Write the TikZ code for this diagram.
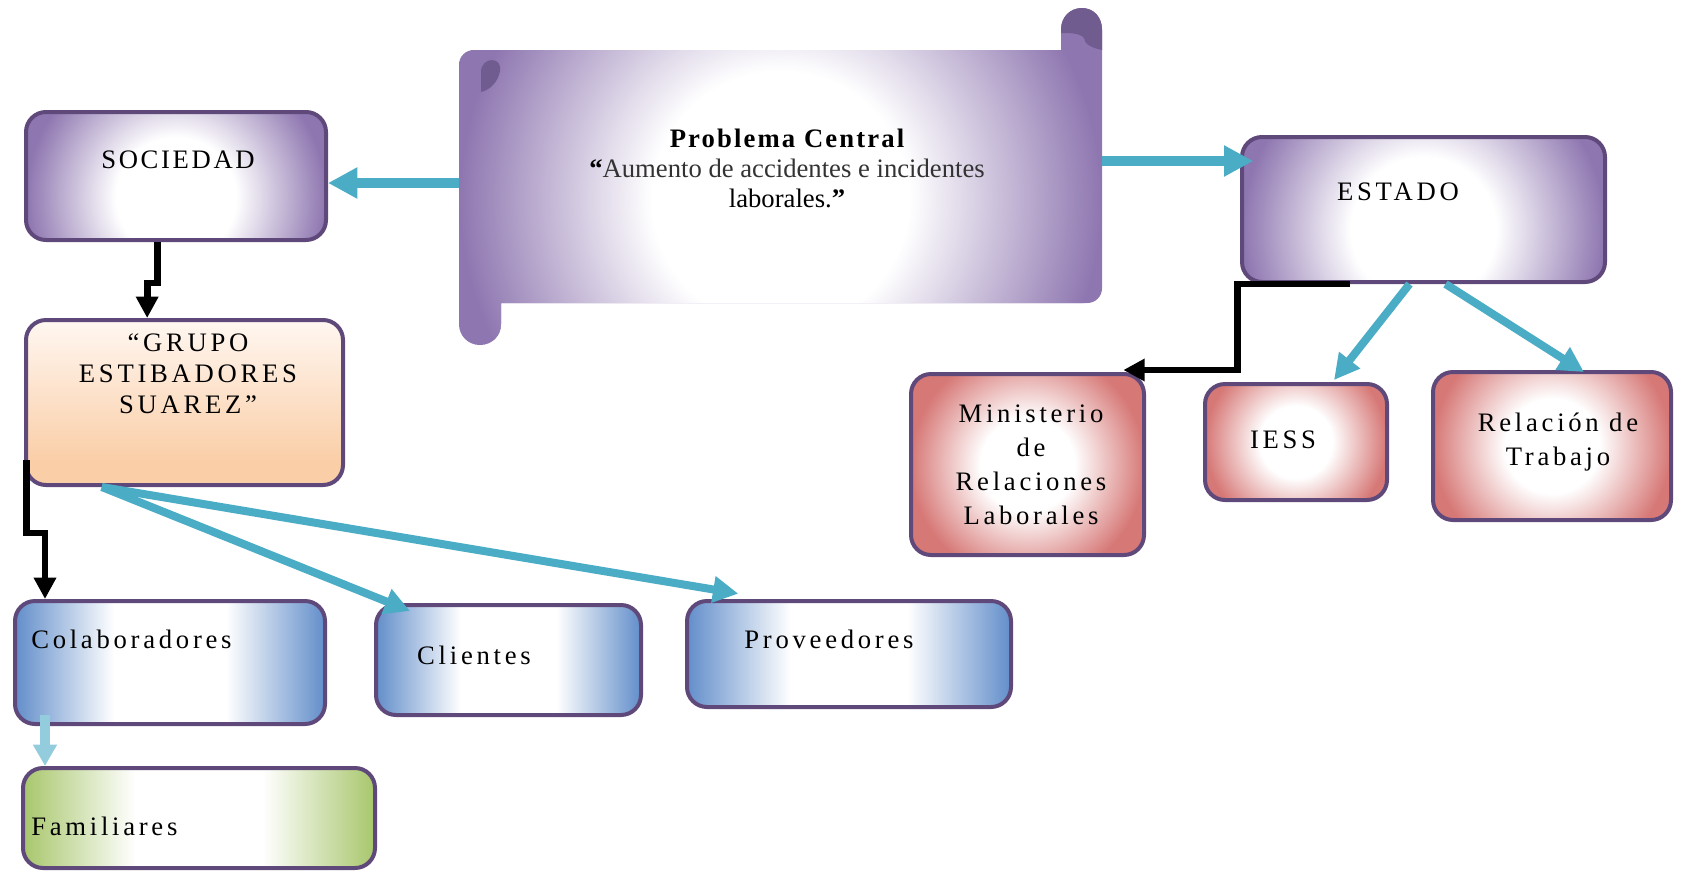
\documentclass[tikz,border=0pt]{standalone}
\usepackage{fontspec}
\setmainfont{Liberation Serif}
\newfontfamily\spaced[LetterSpace=14]{Liberation Serif}
\newfontfamily\spacedsoc[LetterSpace=10]{Liberation Serif}
\newfontfamily\spacedtitle[LetterSpace=8]{Liberation Serif}
\usetikzlibrary{arrows.meta,fit}

\definecolor{boxborder}{RGB}{95,73,122}
\definecolor{purpleedge}{RGB}{142,118,176}
\definecolor{scrollcurl}{RGB}{112,92,142}
\definecolor{pinkedge}{RGB}{214,120,118}
\definecolor{blueedge}{RGB}{98,142,202}
\definecolor{greenedge}{RGB}{168,198,108}
\definecolor{peachtop}{RGB}{255,247,241}
\definecolor{peachbot}{RGB}{250,206,167}
\definecolor{arrowteal}{RGB}{75,172,198}
\definecolor{arrowlight}{RGB}{147,205,221}

\pgfdeclareradialshading{glowpurple}{\pgfpoint{0bp}{0bp}}{color(0bp)=(white); color(10bp)=(white); color(25bp)=(purpleedge); color(50bp)=(purpleedge)}
\pgfdeclareradialshading{glowpink}{\pgfpoint{0bp}{0bp}}{color(0bp)=(white); color(10bp)=(white); color(25bp)=(pinkedge); color(50bp)=(pinkedge)}
\pgfdeclarehorizontalshading{bandblue}{100bp}{color(0bp)=(blueedge); color(25bp)=(blueedge); color(41bp)=(white); color(59bp)=(white); color(75bp)=(blueedge); color(100bp)=(blueedge)}
\pgfdeclarehorizontalshading{bandgreen}{100bp}{color(0bp)=(greenedge); color(25bp)=(greenedge); color(41bp)=(white); color(59bp)=(white); color(75bp)=(greenedge); color(100bp)=(greenedge)}
\pgfdeclareverticalshading{peach}{100bp}{color(0bp)=(peachbot); color(32bp)=(peachbot); color(75bp)=(peachtop); color(100bp)=(peachtop)}

\tikzset{
  box/.style={draw=boxborder, line width=3pt, rounded corners=15pt, inner sep=0pt},
  purplebox/.style 2 args={box, fill=purpleedge,
    path picture={\shade[shading=glowpurple] ([yshift=-#2]path picture bounding box.center) circle [radius=#1];}},
  pinkbox/.style={box, fill=pinkedge,
    path picture={\shade[shading=glowpink] (path picture bounding box.center) circle [radius=#1];}},
  bluebox/.style={box, shade, shading=bandblue},
  greenbox/.style={box, shade, shading=bandgreen},
  peachbox/.style={box, shade, shading=peach},
  lbl/.style={font={\spaced\fontsize{20}{25}\selectfont}, align=center, inner sep=0pt},
  tealconn/.style={draw=arrowteal, line width=6pt, -{Triangle[length=19pt,width=19pt]}},
  thicker/.style={line width=7.5pt, -{Triangle[length=22pt,width=22pt]}},
  lightconn/.style={draw=arrowlight, line width=7pt, -{Triangle[length=16pt,width=17pt]}},
  blackconn/.style={draw=black, line width=5pt, -{Triangle[length=16pt,width=16pt]}}
}

\begin{document}
\begin{tikzpicture}[x=0.75pt, y=-0.75pt]
  \useasboundingbox (0,0) rectangle (1681,872);
  % Scroll (Problema Central)
  \path[fill=purpleedge,
    path picture={\shade[shading=glowpurple] ([yshift=-17pt]path picture bounding box.center) circle [radius=240pt];}]
    (700,50) [rounded corners=11pt] -- (459,50) [rounded corners=15.5pt] -- (459,345) -- (501,345)
    [sharp corners] -- (501,303) [rounded corners=11pt] -- (1102,303) [rounded corners=15.5pt] -- (1102,8)
    -- (1061,8) [sharp corners] -- (1061,50) -- cycle;
  \fill[scrollcurl] (1061,30) .. controls (1061,17) and (1070,8) .. (1082,8)
    .. controls (1094,8) and (1102,17) .. (1102,30) -- (1102,50)
    .. controls (1092,48) and (1084,44) .. (1084,38)
    .. controls (1080,33) and (1070,33) .. (1061,33) -- cycle;
  \fill[scrollcurl] (481,92) -- (481,72) .. controls (481,64) and (487,60) .. (492,60)
    .. controls (498,60) and (501,65) .. (500,71) .. controls (498,82) and (490,90) .. (481,92) -- cycle;
  \coordinate (scroll-w) at (459,183);
  \coordinate (scroll-e) at (1102,161);
  \node[font={\fontsize{20}{22.5}\selectfont}, align=center, inner sep=0pt] (problema) at (787,168)
    {{\spacedtitle\bfseries Problema Central}\\
     \textbf{“}\color{black!80}Aumento de accidentes e incidentes\\
     laborales.\textbf{\color{black}”}};

  % Boxes
  \node[purplebox={112.5pt}{16pt}, fit={(26,112) (326,240)}] (sociedad) {};
  \node[peachbox, fit={(26,320) (343,485)}] (grupo) {};
  \node[bluebox, fit={(15,601) (325,724)}] (colab) {};
  \node[bluebox, fit={(376,605) (641,715)}] (clientes) {};
  \node[bluebox, fit={(687,601) (1011,707)}] (prov) {};
  \node[greenbox, fit={(23,768) (375,868)}] (famil) {};
  \node[purplebox={136pt}{15pt}, fit={(1242,137) (1605,282)}] (estado) {};
  \node[pinkbox=88pt, fit={(911,374) (1144,555)}] (minis) {};
  \node[pinkbox=68pt, fit={(1205,384) (1387,500)}] (iess) {};
  \node[pinkbox=89pt, fit={(1433,372) (1671,520)}] (relacion) {};

  % Texts
  \node[lbl, font={\spacedsoc\fontsize{20}{25}\selectfont}, anchor=base] (sociedad-txt) at (178,168) {SOCIEDAD};
  \node[lbl, font={\spaced\fontsize{20}{23.25}\selectfont}] (grupo-txt) at (188,374) {“GRUPO\\ESTIBADORES\\SUAREZ”};
  \node[lbl, anchor=base west] (colab-txt) at (31,648) {Colaboradores};
  \node[lbl, anchor=base] (clientes-txt) at (474,664) {Clientes};
  \node[lbl, anchor=base] (prov-txt) at (829,648) {Proveedores};
  \node[lbl, anchor=base west] (famil-txt) at (31,835) {Familiares};
  \node[lbl, anchor=base] (estado-txt) at (1398,200) {ESTADO};
  \node[lbl, font={\spaced\fontsize{20}{25.5}\selectfont}] (minis-txt) at (1031,465) {Ministerio\\de\\Relaciones\\Laborales};
  \node[lbl, anchor=base] (iess-txt) at (1283,448) {IESS};
  \node[lbl] (relacion-txt) at (1558,442) {Relación de\\Trabajo};

  % Connectors
  \draw[tealconn, thicker] (scroll-w) -- (scroll-w -| sociedad.east);
  \draw[tealconn, thicker] (scroll-e) -- ([xshift=10pt]scroll-e -| estado.west);
  \draw[blackconn] ([xshift=-14pt]sociedad.south) -- ++(0,41) -| ([xshift=-28pt]grupo.north);
  \draw[blackconn] ([xshift=2pt,yshift=-43pt]grupo.west) -- ++(0,73) -| ([xshift=24pt]colab.north west);
  \draw[tealconn] ([xshift=-62pt]grupo.south) -- ([xshift=27pt,yshift=-6pt]clientes.north west);
  \draw[tealconn] ([xshift=-62pt]grupo.south) -- ([xshift=40pt,yshift=4pt]prov.north west);
  \draw[lightconn] ([xshift=24pt,yshift=8pt]colab.south west) -- ([xshift=18pt]famil.north west);
  \draw[blackconn] ([xshift=-55pt]estado.south) -- ++(-113,0) |- ([xshift=-17pt,yshift=1.5pt]minis.north east);
  \draw[tealconn] ([xshift=-10.5pt]estado.south) -- ([xshift=28.5pt,yshift=1.5pt]iess.north);
  \draw[tealconn] ([xshift=16.5pt]estado.south) -- ([xshift=24pt,yshift=-1.5pt]relacion.north);
\end{tikzpicture}
\end{document}
